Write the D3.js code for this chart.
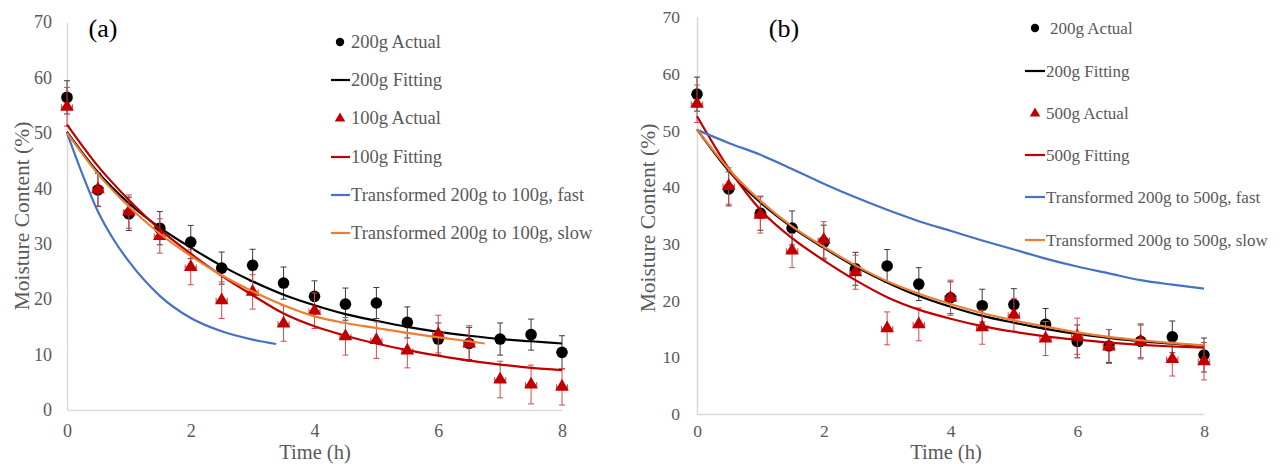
<!DOCTYPE html>
<html>
<head>
<meta charset="utf-8">
<script src="https://cdn.jsdelivr.net/npm/d3@7"></script>
<style>
  html, body { margin: 0; padding: 0; background: #fff; }
  svg { display: block; font-family: "Liberation Serif", "Times New Roman", serif; }
</style>
</head>
<body>
<svg id="chart" width="1285" height="464"></svg>
<script>
// Sampling times (h)
const hours = [0, 0.5, 1, 1.5, 2, 2.5, 3, 3.5, 4, 4.5, 5, 5.5, 6, 6.5, 7, 7.5, 8];

// Measured moisture content (%) with standard deviations
const actual200    = [56.4, 39.7, 35.4, 32.8, 30.3, 25.6, 26.1, 22.9, 20.5, 19.1, 19.3, 15.8, 12.8, 12.0, 12.8, 13.6, 10.4];
const actual200Err = [3.0, 3.0, 3.0, 3.0, 3.0, 2.9, 2.9, 2.9, 2.8, 2.9, 2.8, 2.8, 2.9, 2.9, 2.9, 2.8, 3.0];
const actual100    = [54.7, 39.8, 35.8, 31.4, 25.8, 19.8, 21.3, 15.6, 17.9, 13.3, 12.6, 10.7, 13.7, 12.0, 5.5, 4.6, 4.2];
const actual100Err = [3.5, 3.0, 3.0, 3.1, 3.2, 3.3, 3.1, 3.2, 3.2, 3.4, 3.3, 3.1, 3.4, 3.2, 3.3, 3.5, 3.3];
const actual500    = [54.7, 40.2, 35.1, 28.8, 30.7, 25.0, 15.1, 15.8, 20.5, 15.3, 17.5, 13.3, 13.7, 11.9, 12.8, 9.7, 9.3];
const actual500Err = [3.3, 3.2, 3.2, 3.0, 3.2, 3.0, 2.9, 2.9, 3.1, 3.0, 2.9, 3.0, 3.2, 3.0, 3.1, 3.0, 3.3];

// Fitted drying curves (%)
const fit200 = [50.2, 42.9, 37.3, 32.9, 29.3, 26.0, 23.2, 20.8, 18.9, 17.3, 16.1, 15.0, 14.1, 13.4, 12.8, 12.4, 12.0];
const fit100 = [51.5, 44.0, 37.9, 32.6, 28.2, 24.2, 20.7, 17.4, 15.1, 13.4, 12.0, 10.8, 9.8, 8.9, 8.2, 7.6, 7.2];
const fit500 = [52.5, 43.3, 36.0, 31.0, 27.1, 23.6, 20.6, 18.4, 16.8, 15.5, 14.5, 13.7, 13.1, 12.6, 12.2, 11.9, 11.7];

// Curves transformed from the 200 g batch
const fastTo100Hours = [0, 0.25, 0.5, 0.75, 1, 1.5, 2, 2.5, 3, 3.38];
const fastTo100      = [50.0, 42.5, 35.8, 30.8, 26.8, 20.6, 16.6, 14.2, 12.7, 11.9];
const slowTo100Hours = [0, 0.5, 1, 1.5, 2, 2.5, 3, 3.5, 4, 4.5, 5, 5.5, 6, 6.5, 6.75];
const slowTo100      = [50.0, 42.6, 36.7, 31.8, 27.8, 24.3, 21.4, 18.9, 16.9, 15.7, 14.8, 13.9, 13.1, 12.4, 12.0];
const fastTo500 = [50.1, 47.8, 45.7, 43.2, 40.6, 38.2, 36.0, 34.0, 32.3, 30.6, 29.0, 27.4, 26.0, 24.8, 23.6, 22.8, 22.1];
const slowTo500 = [50.2, 43.2, 37.6, 33.1, 29.5, 26.2, 23.4, 21.2, 19.4, 17.8, 16.5, 15.4, 14.4, 13.6, 13.0, 12.5, 12.1];

// Axis ticks
const xTicks = [0, 2, 4, 6, 8];
const yTicks = [0, 10, 20, 30, 40, 50, 60, 70];

const COLORS = { black: "#000000", red: "#c00000", blue: "#4472c4", orange: "#ed7d31", text: "#595959", axis: "#d9d9d9" };

const zip = (xs, ys) => xs.map((x, i) => ({ x, y: ys[i] }));
const withErr = (ys, es) => hours.map((x, i) => ({ x, y: ys[i], e: es[i] }));

const panels = [
  {
    tag: "(a)",
    x: [67, 562], y: [410, 22],
    tagPos: [103, 28],
    tickPad: { x: 14, y: 15 },
    yTitle: { x: 22, y: 216 }, xTitleX: 315,
    fontTick: 18, fontLegend: 18.5,
    legend: { markX: 340, lineX: [331, 350], textX: 351, rows: [42, 80, 118, 157, 195, 233] },
    actualB: withErr(actual200, actual200Err),
    actualR: withErr(actual100, actual100Err),
    lines: [
      { data: zip(hours, fit200), color: COLORS.black },
      { data: zip(hours, fit100), color: COLORS.red },
      { data: zip(fastTo100Hours, fastTo100), color: COLORS.blue },
      { data: zip(slowTo100Hours, slowTo100), color: COLORS.orange }
    ],
    labels: ["200g Actual", "200g Fitting", "100g Actual", "100g Fitting",
             "Transformed 200g to 100g, fast", "Transformed 200g to 100g, slow"]
  },
  {
    tag: "(b)",
    x: [697, 1204], y: [414, 17],
    tagPos: [784, 28],
    tickPad: { x: 11, y: 17 },
    yTitle: { x: 648, y: 218 }, xTitleX: 946,
    fontTick: 17.5, fontLegend: 17,
    legend: { markX: 1035, lineX: [1025, 1045], textX: 1046, actualTextX: 1050, rows: [28, 71, 113, 155, 197, 240] },
    actualB: withErr(actual200, actual200Err),
    actualR: withErr(actual500, actual500Err),
    lines: [
      { data: zip(hours, fit200), color: COLORS.black },
      { data: zip(hours, fit500), color: COLORS.red },
      { data: zip(hours, fastTo500), color: COLORS.blue },
      { data: zip(hours, slowTo500), color: COLORS.orange }
    ],
    labels: ["200g Actual", "200g Fitting", "500g Actual", "500g Fitting",
             "Transformed 200g to 500g, fast", "Transformed 200g to 500g, slow"]
  }
];

const svg = d3.select("#chart");
svg.append("rect").attr("width", 1285).attr("height", 464).attr("fill", "#fff");

panels.forEach(p => {
  const g = svg.append("g");
  const x = d3.scaleLinear().domain([0, 8]).range(p.x);
  const y = d3.scaleLinear().domain([0, 70]).range(p.y);

  // Axes
  const ax = g.append("g").attr("transform", `translate(0,${p.y[0]})`)
    .call(d3.axisBottom(x).tickValues(xTicks).tickSize(0).tickPadding(p.tickPad.x).tickFormat(d3.format("d")));
  const ay = g.append("g").attr("transform", `translate(${p.x[0]},0)`)
    .call(d3.axisLeft(y).tickValues(yTicks).tickSize(0).tickPadding(p.tickPad.y).tickFormat(d3.format("d")));
  [ax, ay].forEach(a => {
    a.select(".domain").attr("stroke", COLORS.axis).attr("stroke-width", 1.5);
    a.selectAll("text").attr("fill", COLORS.text).style("font-size", p.fontTick + "px")
      .style("font-family", "Liberation Serif, Times New Roman, serif");
  });

  // Axis titles
  g.append("text").attr("transform", `translate(${p.yTitle.x},${p.yTitle.y}) rotate(-90)`)
    .attr("text-anchor", "middle").attr("dominant-baseline", "central")
    .attr("fill", COLORS.text).style("font-size", "21.5px").text("Moisture Content (%)");

  // x title sits directly beneath the tick labels
  let tickBottom = 0;
  ax.selectAll("text").each(function () {
    const b = this.getBBox();
    tickBottom = Math.max(tickBottom, p.y[0] + b.y + b.height);
  });
  const xt = g.append("text").attr("x", p.xTitleX).attr("y", 0)
    .attr("text-anchor", "middle").attr("fill", COLORS.text)
    .style("font-size", "20.5px").text("Time (h)");
  const tb = xt.node().getBBox();
  const ty = Math.min(tickBottom + 0.5 - tb.y, 463.5 - (tb.y + tb.height));
  xt.attr("y", ty);

  // Panel tag
  g.append("text").attr("x", p.tagPos[0]).attr("y", p.tagPos[1])
    .attr("text-anchor", "middle").attr("dominant-baseline", "central")
    .attr("fill", "#000").style("font-size", "26px").text(p.tag);

  // Error bars
  const drawErr = (data, color, withX) => {
    const eg = g.append("g").attr("stroke", color).attr("stroke-width", 1).attr("fill", "none");
    data.forEach(d => {
      const cx = x(d.x), yt = y(d.y + d.e), yb = y(d.y - d.e);
      eg.append("line").attr("x1", cx).attr("x2", cx).attr("y1", yt).attr("y2", yb);
      eg.append("line").attr("x1", cx - 3).attr("x2", cx + 3).attr("y1", yt).attr("y2", yt);
      eg.append("line").attr("x1", cx - 3).attr("x2", cx + 3).attr("y1", yb).attr("y2", yb);
      if (withX) {
        const xl = x(d.x - 0.09), xr = x(d.x + 0.09), cy = y(d.y);
        eg.append("line").attr("x1", xl).attr("x2", xr).attr("y1", cy).attr("y2", cy);
        eg.append("line").attr("x1", xl).attr("x2", xl).attr("y1", cy - 2.5).attr("y2", cy + 2.5);
        eg.append("line").attr("x1", xr).attr("x2", xr).attr("y1", cy - 2.5).attr("y2", cy + 2.5);
      }
    });
  };

  const line = d3.line().x(d => x(d.x)).y(d => y(d.y)).curve(d3.curveMonotoneX);
  const drawLine = l => g.append("path").datum(l.data).attr("d", line)
    .attr("fill", "none").attr("stroke", l.color).attr("stroke-width", 2.2).attr("stroke-linejoin", "round");

  // 200 g measured points
  drawErr(p.actualB, "#3a3a3a", false);
  g.append("g").selectAll("circle").data(p.actualB).join("circle")
    .attr("cx", d => x(d.x)).attr("cy", d => y(d.y)).attr("r", 5.8).attr("fill", COLORS.black);
  drawLine(p.lines[0]);

  // Comparison batch measured points
  drawErr(p.actualR, "#d24a4a", true);
  const tri = d3.symbol(d3.symbolTriangle, 80);
  g.append("g").selectAll("path").data(p.actualR).join("path")
    .attr("d", tri).attr("transform", d => `translate(${x(d.x)},${y(d.y)})`).attr("fill", COLORS.red);
  drawLine(p.lines[1]);
  drawLine(p.lines[2]);
  drawLine(p.lines[3]);

  // Legend
  const L = p.legend;
  const kinds = ["circle", "line", "triangle", "line", "line", "line"];
  const kc = [COLORS.black, COLORS.black, COLORS.red, COLORS.red, COLORS.blue, COLORS.orange];
  const lg = g.append("g");
  kinds.forEach((k, i) => {
    const ry = L.rows[i];
    let tx = L.textX;
    if (k === "circle") {
      lg.append("circle").attr("cx", L.markX).attr("cy", ry).attr("r", 4.2).attr("fill", kc[i]);
      if (L.actualTextX) tx = L.actualTextX;
    } else if (k === "triangle") {
      lg.append("path").attr("d", d3.symbol(d3.symbolTriangle, 48))
        .attr("transform", `translate(${L.markX},${ry + 0.5})`).attr("fill", kc[i]);
    } else {
      lg.append("line").attr("x1", L.lineX[0]).attr("x2", L.lineX[1]).attr("y1", ry).attr("y2", ry)
        .attr("stroke", kc[i]).attr("stroke-width", 2.2);
    }
    lg.append("text").attr("x", tx).attr("y", ry).attr("dominant-baseline", "central")
      .attr("fill", COLORS.text).style("font-size", p.fontLegend + "px").text(p.labels[i]);
  });
});
</script>
</body>
</html>
